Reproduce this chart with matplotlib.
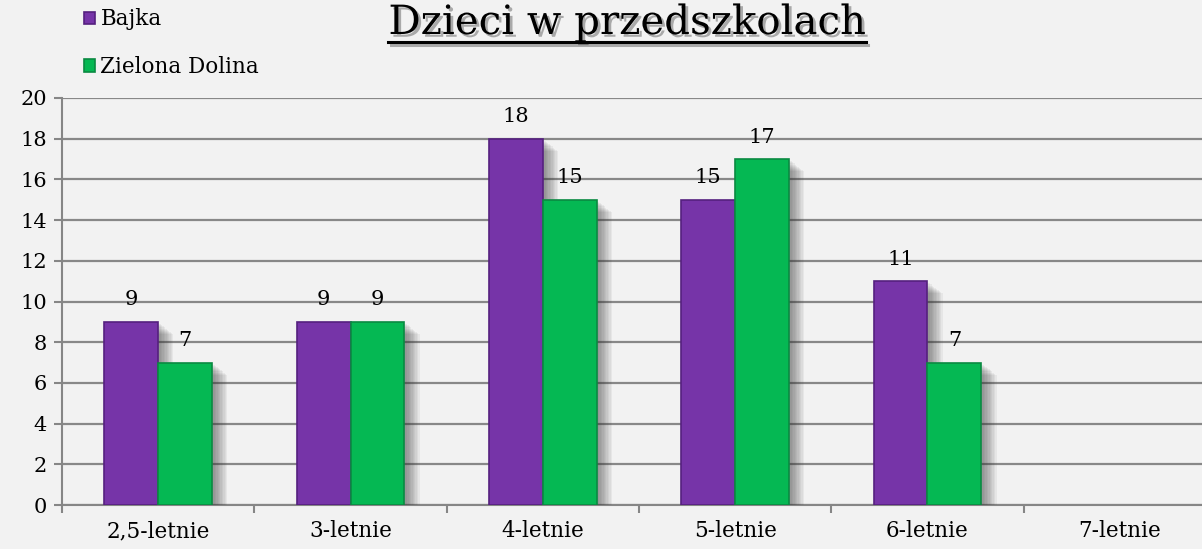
import numpy as np
import matplotlib
matplotlib.use('Agg')
import matplotlib.pyplot as plt
import matplotlib.patheffects as pe
from matplotlib.lines import Line2D

# dane
kategorie = ['2,5-letnie', '3-letnie', '4-letnie', '5-letnie', '6-letnie', '7-letnie']
bajka = [9, 9, 18, 15, 11, np.nan]
zielona_dolina = [7, 9, 15, 17, 7, np.nan]
y_ticks = [0, 2, 4, 6, 8, 10, 12, 14, 16, 18, 20]

fiolet = '#7634A8'
zielony = '#05B853'
tlo = '#F2F2F2'

plt.rcParams['font.family'] = ['DejaVu Serif']

fig = plt.figure(figsize=(12.02, 5.49), dpi=100, facecolor=tlo)
ax = fig.add_axes([0.0516, 0.0801, 0.96, 0.7414])
ax.set_facecolor(tlo)

x = np.arange(len(kategorie))
w = 0.28
# miekki cien pod slupkami
cien = [pe.SimplePatchShadow(offset=(o, -o * 0.8), shadow_rgbFace='#333333', alpha=0.06)
        for o in range(2, 12)] + [pe.Normal()]

b1 = ax.bar(x - w / 2, bajka, w, color=fiolet, edgecolor='#55207F', linewidth=1.2,
            label='Bajka', zorder=3, path_effects=cien)
b2 = ax.bar(x + w / 2, zielona_dolina, w, color=zielony, edgecolor='#0A8A42', linewidth=1.2,
            label='Zielona Dolina', zorder=3, path_effects=cien)

ax.bar_label(b1, labels=['' if np.isnan(v) else '%d' % v for v in bajka],
             padding=9, fontsize=15)
ax.bar_label(b2, labels=['' if np.isnan(v) else '%d' % v for v in zielona_dolina],
             padding=9, fontsize=15)

# osie
ax.set_xlim(-0.5, len(kategorie) - 0.5)
ax.set_ylim(0, 20)
ax.set_yticks(y_ticks)
ax.set_xticks(x)
ax.set_xticklabels(kategorie, fontsize=15.5)
ax.set_xticks(np.arange(len(kategorie) + 1) - 0.5, minor=True)
ax.tick_params(axis='x', which='major', length=0, pad=11)
ax.tick_params(axis='x', which='minor', length=6, color='#868686', width=1.5)
ax.tick_params(axis='y', labelsize=15, length=6, color='#868686', width=1.5, pad=5)
ax.grid(axis='y', color='#888888', linewidth=1.6, zorder=0)
ax.set_axisbelow(True)
for s in ['top', 'right']:
    ax.spines[s].set_visible(False)
ax.spines['left'].set_color('#868686')
ax.spines['left'].set_linewidth(1.5)
ax.spines['bottom'].set_color('#868686')
ax.spines['bottom'].set_linewidth(1.5)

# legenda
leg = fig.legend(handles=[b1, b2], loc='upper left', bbox_to_anchor=(0.054, 1.02),
                 frameon=False, fontsize=15.5, handlelength=0.5, handleheight=0.5,
                 handletextpad=0.25, labelspacing=1.2)
for p in leg.get_patches():
    p.set_path_effects([])

# tytul z podkresleniem
tytul = fig.text(0.5216, 1 - 34 / 549, 'Dzieci w przedszkolach', ha='center', va='baseline',
                 fontsize=29, color='black',
                 path_effects=[pe.withSimplePatchShadow(offset=(2, -2), alpha=0.3)])
fig.canvas.draw()
bb = tytul.get_window_extent().transformed(fig.transFigure.inverted())
yl = 1 - 42 / 549
fig.add_artist(Line2D([bb.x0, bb.x1], [yl, yl], color='black', linewidth=2.2,
                      transform=fig.transFigure,
                      path_effects=[pe.SimpleLineShadow(offset=(2, -2), alpha=0.3), pe.Normal()]))

fig.savefig('out.png', dpi=100, facecolor=tlo)
